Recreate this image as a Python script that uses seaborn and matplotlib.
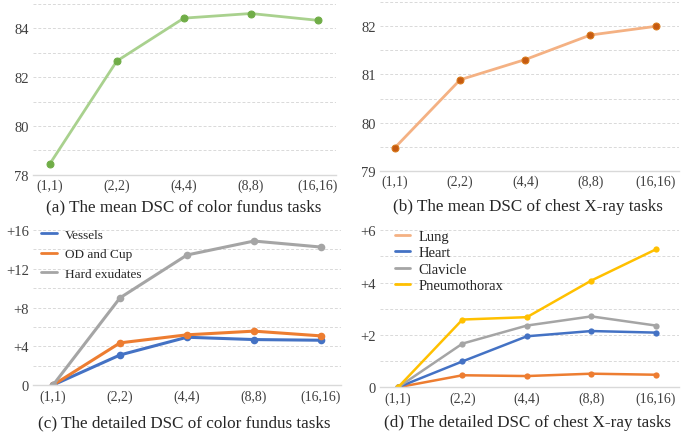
import matplotlib
matplotlib.use("Agg")
import matplotlib.pyplot as plt
import seaborn as sns
import pandas as pd
import numpy as np

categories = ["(1,1)", "(2,2)", "(4,4)", "(8,8)", "(16,16)"]
fundus_mean = [78.44, 82.66, 84.42, 84.61, 84.33]
xray_mean = [79.48, 80.89, 81.31, 81.82, 82.00]
vessels = [0.0, 3.10, 4.93, 4.69, 4.62]
od_cup = [0.0, 4.35, 5.18, 5.56, 5.07]
hard_exudates = [0.0, 9.00, 13.42, 14.86, 14.24]
lung = [0.0, 0.46, 0.43, 0.52, 0.48]
heart = [0.0, 0.99, 1.95, 2.15, 2.09]
clavicle = [0.0, 1.67, 2.36, 2.71, 2.36]
pneumothorax = [0.0, 2.59, 2.68, 4.08, 5.27]

captions = ["(a) The mean DSC of color fundus tasks",
            "(b) The mean DSC of chest X-ray tasks",
            "(c) The detailed DSC of color fundus tasks",
            "(d) The detailed DSC of chest X-ray tasks"]

sns.set_theme(style="white")
plt.rcParams['font.family'] = ['Liberation Serif', 'DejaVu Serif']

W, H = 694, 435
fig = plt.figure(figsize=(W / 100, H / 100), dpi=100)

def add_ax(l, r, t, b):
    return fig.add_axes([l / W, (H - b) / H, (r - l) / W, (b - t) / H])

grid_c = "#D9D9D9"

def style(ax, ylim, major, minor, fmt):
    ax.set_ylim(*ylim)
    ax.set_yticks(major)
    ax.set_yticks(minor, minor=True)
    ax.set_yticklabels([fmt(v) for v in major], fontsize=10.5, color="#404040")
    ax.set_xticks(range(len(categories)))
    ax.set_xticklabels(categories, fontsize=10, color="#404040")
    ax.grid(True, which="both", axis="y", color=grid_c, linestyle=(0, (3, 2)), linewidth=0.7)
    ax.grid(False, axis="x")
    ax.set_axisbelow(True)
    for s in ["top", "right", "left"]:
        ax.spines[s].set_visible(False)
    ax.spines["bottom"].set_color(grid_c)
    ax.spines["bottom"].set_linewidth(1.0)
    ax.tick_params(axis="both", length=0, pad=3)
    ax.set_xlabel("")
    ax.set_ylabel("")

# (a)
ax = add_ax(33, 336, 5, 175.7)
df = pd.DataFrame({"cat": categories, "v": fundus_mean})
sns.lineplot(data=df, x="cat", y="v", ax=ax, color="#A9D18E", linewidth=2, marker="o",
             markersize=5, markerfacecolor="#70AD47", markeredgecolor="#70AD47", sort=False)
style(ax, (78, 85), [78, 80, 82, 84], np.arange(78, 85.01, 1), lambda v: f"{v:g}")
ax.set_xlim(-0.25, 4.27)
fig.text(184 / W, 1 - 207 / H, captions[0], ha="center", va="center", fontsize=12.3)

# (b)
ax = add_ax(380, 679, 3.3, 171.7)
df = pd.DataFrame({"cat": categories, "v": xray_mean})
sns.lineplot(data=df, x="cat", y="v", ax=ax, color="#F4B183", linewidth=2, marker="o",
             markersize=5, markerfacecolor="#C55A11", markeredgecolor="#D97A1A", sort=False)
style(ax, (79, 82.5), [79, 80, 81, 82], np.arange(79, 82.51, 0.5), lambda v: f"{v:g}")
ax.set_xlim(-0.23, 4.36)
fig.text(528 / W, 1 - 207 / H, captions[1], ha="center", va="center", fontsize=12.3)

def plus(v):
    return "0" if v == 0 else f"+{v:g}"

# (c)
ax = add_ax(33, 341, 231, 386)
long_c = pd.DataFrame({
    "cat": categories * 3,
    "v": vessels + od_cup + hard_exudates,
    "s": ["Vessels"] * 5 + ["OD and Cup"] * 5 + ["Hard exudates"] * 5,
})
pal_c = {"Vessels": "#4472C4", "OD and Cup": "#ED7D31", "Hard exudates": "#A5A5A5"}
sns.lineplot(data=long_c, x="cat", y="v", hue="s", palette=pal_c, ax=ax, linewidth=2.2,
             marker="o", markersize=5.5, markeredgewidth=0, sort=False)
style(ax, (0, 16), [0, 4, 8, 12, 16], np.arange(0, 16.01, 2), plus)
ax.set_xlim(-0.3, 4.3)
leg = ax.legend(loc="upper left", bbox_to_anchor=(0.0, 1.06), frameon=False, fontsize=9.5,
                handlelength=1.2, handletextpad=0.6, labelspacing=0.55, borderaxespad=0.2)
for h in leg.legend_handles:
    h.set_marker("")
    h.set_linewidth(2)
fig.text(184 / W, 1 - 423 / H, captions[2], ha="center", va="center", fontsize=12.3)

# (d)
ax = add_ax(380, 679, 231.3, 388.3)
long_d = pd.DataFrame({
    "cat": categories * 4,
    "v": lung + heart + clavicle + pneumothorax,
    "s": ["Lung"] * 5 + ["Heart"] * 5 + ["Clavicle"] * 5 + ["Pneumothorax"] * 5,
})
pal_d = {"Lung": "#ED7D31", "Heart": "#4472C4", "Clavicle": "#A5A5A5", "Pneumothorax": "#FFC000"}
sns.lineplot(data=long_d, x="cat", y="v", hue="s", palette=pal_d, ax=ax, linewidth=1.8,
             marker="o", markersize=4.5, markeredgewidth=0, sort=False)
style(ax, (0, 6), [0, 2, 4, 6], np.arange(0, 6.01, 1), plus)
ax.set_xlim(-0.28, 4.36)
leg = ax.legend(loc="upper left", bbox_to_anchor=(0.02, 1.06), frameon=False, fontsize=10.5,
                handlelength=1.05, handletextpad=0.6, labelspacing=0.22, borderaxespad=0.2)
for h in leg.legend_handles:
    h.set_marker("")
    h.set_linewidth(2)
leg.legend_handles[0].set_color("#F4B183")
fig.text(528 / W, 1 - 423 / H, captions[3], ha="center", va="center", fontsize=12.3)

fig.savefig("out.png", dpi=100)
